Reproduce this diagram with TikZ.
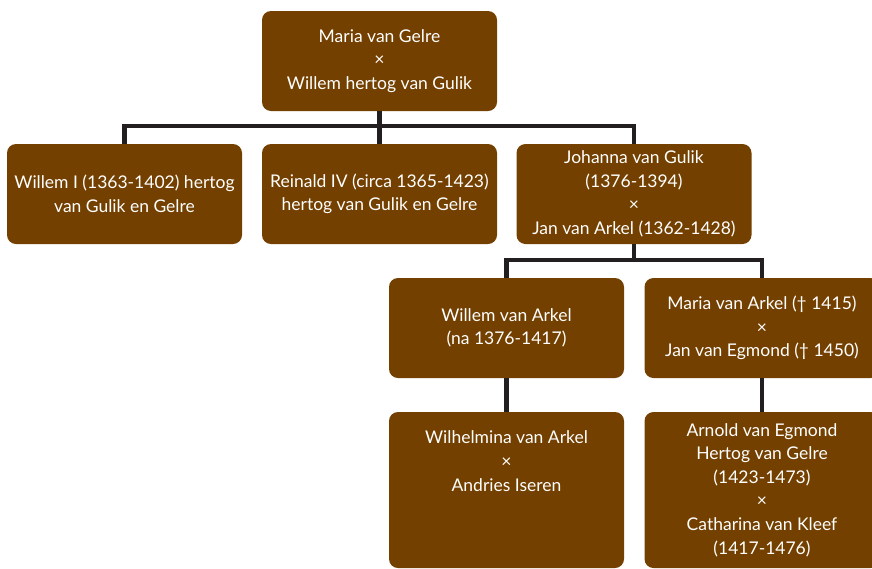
\documentclass[tikz,border=0pt]{standalone}
\usepackage{fontspec}
\setmainfont{Lato}
\usepackage{xcolor}
\usepackage{tikz}
\usetikzlibrary{positioning, calc}

\definecolor{boxbrown}{RGB}{116,64,0}
\definecolor{linkdark}{RGB}{35,31,32}

\begin{document}
\begin{tikzpicture}[
    x=1pt, y=-1pt,
    person/.style={rectangle, rounded corners=9pt, fill=boxbrown, text=white, minimum width=235pt, minimum height=100pt, inner sep=3pt, align=center, font=\fontsize{17.5}{23.6}\selectfont},
    tall/.style={person, minimum height=156pt},
    link/.style={draw=linkdark, line width=4.5pt}
]
\useasboundingbox (0,0) rectangle (872,568);
\clip (0,0) rectangle (872,568);

% Generation 1
\node[person] (maria) at (379.5, 61) {Maria van Gelre\\ ×\\ Willem hertog van Gulik};

% Generation 2
\node[person] (willemI) at (124.5, 194) {Willem I (1363-1402) hertog\\ van Gulik en Gelre};
\node[person] (reinald) at (379.5, 194) {Reinald IV (circa 1365-1423)\\ hertog van Gulik en Gelre};
\node[person] (johanna) at (634, 194) {Johanna van Gulik\\ (1376-1394)\\ ×\\ Jan van Arkel (1362-1428)};

% Generation 3
\node[person] (willemA) at (506.5, 328) {Willem van Arkel\\ (na 1376-1417)};
\node[person] (mariaA) at (762, 328) {Maria van Arkel († 1415)\\ ×\\ Jan van Egmond († 1450)};

% Generation 4
\node[tall] (wilhelmina) at (506.5, 490) {Wilhelmina van Arkel\\ ×\\ Andries Iseren\\[1.45\baselineskip] ~};
\node[tall] (arnold) at (762, 490) {Arnold van Egmond\\ Hertog van Gelre\\ (1423-1473)\\ ×\\ Catharina van Kleef\\ (1417-1476)};

% Links
\draw[link] (maria.south) -- (reinald.north);
\draw[link] (willemI.north) -- ++(0,-18) -| (johanna.north);
\draw[link] (johanna.south) -- ++(0,18);
\draw[link] (willemA.north) -- ++(0,-18) -| (mariaA.north);
\draw[link] (willemA.south) -- (wilhelmina.north);
\draw[link] (mariaA.south) -- (arnold.north);

\end{tikzpicture}
\end{document}
